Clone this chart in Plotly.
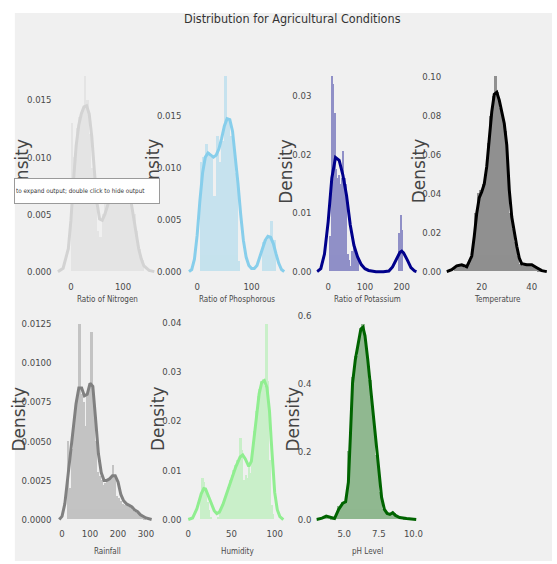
import plotly.graph_objects as go

# ------------------------------------------------------------------ data
nitrogen_bin_start, nitrogen_bin_width = 0, 5
nitrogen_hist = [0.0130, 0.0100, 0.0125, 0.0135, 0.0140, 0.0171, 0.0150, 0.0120, 0.0090, 0.0060,
                 0.0035, 0.0030, 0.0050, 0.0060, 0.0070, 0.0075, 0.0072, 0.0080, 0.0078, 0.0070,
                 0.0075, 0.0080, 0.0072, 0.0068, 0.0050, 0.0035, 0.0020, 0.0010]
nitrogen_kde_x = [-25, -15, -5, 0, 5, 10, 15, 20, 25, 30, 35, 40, 45, 50, 55, 60, 65, 70, 75, 80,
                  85, 90, 95, 100, 105, 110, 115, 120, 125, 130, 135, 140, 150, 160]
nitrogen_kde_y = [0.0000, 0.0003, 0.0020, 0.0045, 0.0080, 0.0110, 0.0128, 0.0138, 0.0144, 0.0145,
                  0.0138, 0.0118, 0.0088, 0.0060, 0.0046, 0.0045, 0.0050, 0.0058, 0.0066, 0.0072,
                  0.0076, 0.0078, 0.0079, 0.0079, 0.0077, 0.0072, 0.0062, 0.0048, 0.0033, 0.0020,
                  0.0011, 0.0005, 0.0001, 0.0000]

phosphorous_bin_start, phosphorous_bin_width = 5, 5
phosphorous_hist = [0.0105, 0.0110, 0.0122, 0.0115, 0.0110, 0.0072, 0.0130, 0.0105, 0.0125, 0.0188,
                    0.0145, 0.0130, 0.0125, 0.0095, 0.0010, 0.0, 0.0, 0.0, 0.0, 0.0,
                    0.0, 0.0, 0.0, 0.0028, 0.0030, 0.0032, 0.0048, 0.0030]
phosphorous_kde_x = [-15, -10, -5, 0, 5, 10, 15, 20, 25, 30, 35, 40, 45, 50, 55, 60, 65, 70, 75, 80,
                     85, 90, 95, 100, 105, 110, 115, 120, 125, 130, 135, 140, 145, 150, 155, 160]
phosphorous_kde_y = [0.0000, 0.0002, 0.0012, 0.0035, 0.0068, 0.0095, 0.0110, 0.0114, 0.0112, 0.0110,
                     0.0112, 0.0118, 0.0128, 0.0140, 0.0147, 0.0146, 0.0135, 0.0112, 0.0085, 0.0055,
                     0.0030, 0.0014, 0.0006, 0.0003, 0.0003, 0.0006, 0.0013, 0.0022, 0.0030, 0.0034,
                     0.0033, 0.0027, 0.0017, 0.0008, 0.0002, 0.0000]

potassium_bin_start, potassium_bin_width = 5, 4
potassium_hist = [0.0060, 0.0334, 0.0320, 0.0270, 0.0175, 0.0160, 0.0165, 0.0150, 0.0160, 0.0205,
                  0.0160, 0.0150, 0.0030, 0.0020, 0.0010, 0.0035, 0.0040, 0.0030, 0.0025, 0.0020,
                  0, 0, 0, 0, 0, 0, 0, 0, 0, 0,
                  0, 0, 0, 0, 0, 0, 0, 0, 0, 0,
                  0, 0, 0, 0, 0, 0, 0, 0.0065, 0.0097, 0.0070]
potassium_kde_x = [-30, -20, -10, 0, 10, 20, 30, 40, 50, 60, 70, 80, 90, 100, 110, 120, 130, 150,
                   165, 175, 185, 195, 200, 205, 215, 225, 235, 240]
potassium_kde_y = [0.0000, 0.0005, 0.0030, 0.0085, 0.0160, 0.0195, 0.0190, 0.0165, 0.0130, 0.0080,
                   0.0045, 0.0025, 0.0012, 0.0005, 0.0002, 0.0001, 0.0000, 0.0000, 0.0001, 0.0008,
                   0.0022, 0.0033, 0.0035, 0.0032, 0.0020, 0.0007, 0.0001, 0.0000]

temperature_bin_start, temperature_bin_width = 9, 1
temperature_hist = [0.002, 0.003, 0.004, 0.003, 0.002, 0.003, 0.006, 0.015, 0.030, 0.040,
                    0.042, 0.045, 0.050, 0.066, 0.080, 0.090, 0.1004, 0.092, 0.084, 0.080,
                    0.072, 0.050, 0.030, 0.022, 0.015, 0.008, 0.004, 0.003, 0.003, 0.004,
                    0.004, 0.003, 0.002, 0.001, 0.001]
temperature_kde_x = [6, 8, 10, 12, 14, 16, 17, 18, 19, 20, 21, 22, 23, 24, 25, 26, 27, 28, 29, 30,
                     31, 32, 33, 34, 35, 36, 38, 40, 42, 44, 46]
temperature_kde_y = [0.0000, 0.0010, 0.0030, 0.0035, 0.0025, 0.0080, 0.0180, 0.0300, 0.0380, 0.0410,
                     0.0450, 0.0540, 0.0680, 0.0820, 0.0910, 0.0920, 0.0880, 0.0820, 0.0760, 0.0650,
                     0.0420, 0.0280, 0.0200, 0.0130, 0.0070, 0.0040, 0.0035, 0.0035, 0.0020, 0.0005,
                     0.0000]

rainfall_bin_start, rainfall_bin_width = 20, 7
rainfall_hist = [0.0050, 0.0020, 0.0045, 0.0065, 0.0075, 0.0082, 0.0125, 0.0080, 0.0075, 0.0060,
                 0.0080, 0.0085, 0.0120, 0.0075, 0.0050, 0.0030, 0.0028, 0.0025, 0.0022, 0.0023,
                 0.0024, 0.0026, 0.0028, 0.0035, 0.0027, 0.0015, 0.0014, 0.0012, 0.0010, 0.0009,
                 0.0009, 0.0008, 0.0007, 0.0006, 0.0005, 0.0004, 0.0004, 0.0003, 0.0002, 0.0001]
rainfall_kde_x = [-10, 0, 10, 20, 30, 40, 50, 60, 70, 80, 90, 100, 110, 120, 130, 140, 150, 160,
                  170, 180, 190, 200, 210, 220, 230, 240, 250, 260, 270, 280, 290, 300, 320]
rainfall_kde_y = [0.0000, 0.0002, 0.0010, 0.0025, 0.0040, 0.0058, 0.0074, 0.0084, 0.0084, 0.0079,
                  0.0080, 0.0087, 0.0085, 0.0064, 0.0042, 0.0030, 0.0025, 0.0025, 0.0026, 0.0028,
                  0.0028, 0.0024, 0.0016, 0.0012, 0.0010, 0.0009, 0.0008, 0.0006, 0.0005, 0.0003,
                  0.0002, 0.0001, 0.0000]

humidity_bin_start, humidity_bin_width = 14, 2
humidity_hist = [0.0040, 0.0085, 0.0075, 0.0060, 0.0035, 0.0020, 0.0005, 0.0, 0.0, 0.0,
                 0.0005, 0.0010, 0.0020, 0.0030, 0.0045, 0.0055, 0.0065, 0.0080, 0.0090, 0.0100,
                 0.0110, 0.0120, 0.0115, 0.0165, 0.0140, 0.0080, 0.0090, 0.0085, 0.0110, 0.0095,
                 0.0130, 0.0180, 0.0220, 0.0250, 0.0265, 0.0280, 0.0285, 0.0270, 0.0397, 0.0280,
                 0.0120, 0.0030, 0.0010]
humidity_kde_x = [0, 5, 10, 15, 18, 20, 25, 30, 33, 36, 40, 45, 50, 55, 60, 63, 66, 70, 73, 76,
                  79, 82, 85, 88, 91, 94, 96, 98, 100, 103, 106, 110]
humidity_kde_y = [0.0000, 0.0003, 0.0022, 0.0052, 0.0063, 0.0062, 0.0040, 0.0018, 0.0012, 0.0015,
                  0.0030, 0.0055, 0.0082, 0.0107, 0.0127, 0.0131, 0.0123, 0.0108, 0.0118, 0.0160,
                  0.0210, 0.0255, 0.0278, 0.0282, 0.0268, 0.0220, 0.0160, 0.0100, 0.0055, 0.0020,
                  0.0006, 0.0000]

ph_bin_start, ph_bin_width = 3.5, 0.25
ph_hist = [0.008, 0.006, 0.003, 0.010, 0.040, 0.050, 0.055, 0.200, 0.420, 0.480,
           0.540, 0.575, 0.500, 0.410, 0.300, 0.190, 0.080, 0.030, 0.018, 0.015,
           0.020, 0.010, 0.006, 0.004, 0.002, 0.001]
ph_kde_x = [3.0, 3.4, 3.7, 4.0, 4.3, 4.6, 4.9, 5.1, 5.3, 5.45, 5.6, 5.8, 6.0, 6.2, 6.35, 6.5, 6.7,
            6.9, 7.1, 7.3, 7.5, 7.7, 7.9, 8.1, 8.3, 8.5, 8.7, 9.0, 9.5, 10.0, 10.2]
ph_kde_y = [0.000, 0.004, 0.010, 0.006, 0.003, 0.030, 0.048, 0.052, 0.110, 0.250, 0.400, 0.470,
            0.520, 0.560, 0.565, 0.540, 0.470, 0.390, 0.300, 0.210, 0.130, 0.065, 0.030, 0.018,
            0.015, 0.020, 0.012, 0.006, 0.003, 0.001, 0.000]

x_titles = ["Ratio of Nitrogen", "Ratio of Phosphorous", "Ratio of Potassium", "Temperature",
            "Rainfall", "Humidity", "pH Level"]
x_tick_vals = [[0, 100], [0, 100], [0, 100, 200], [20, 40], [0, 100, 200, 300], [0, 50, 100],
               [5.0, 7.5, 10.0]]
x_tick_text = [["0", "100"], ["0", "100"], ["0", "100", "200"], ["20", "40"],
               ["0", "100", "200", "300"], ["0", "50", "100"], ["5.0", "7.5", "10.0"]]
y_tick_vals = [[0, 0.005, 0.010, 0.015], [0, 0.005, 0.010, 0.015], [0, 0.01, 0.02, 0.03],
               [0, 0.02, 0.04, 0.06, 0.08, 0.10], [0, 0.0025, 0.005, 0.0075, 0.01, 0.0125],
               [0, 0.01, 0.02, 0.03, 0.04], [0, 0.2, 0.4, 0.6]]
y_tick_text = [["0.000", "0.005", "0.010", "0.015"], ["0.000", "0.005", "0.010", "0.015"],
               ["0.00", "0.01", "0.02", "0.03"], ["0.00", "0.02", "0.04", "0.06", "0.08", "0.10"],
               ["0.0000", "0.0025", "0.0050", "0.0075", "0.0100", "0.0125"],
               ["0.00", "0.01", "0.02", "0.03", "0.04"], ["0.0", "0.2", "0.4", "0.6"]]
y_title = "Density"
chart_title = "Distribution for Agricultural Conditions"
tooltip_text = "to expand output; double click to hide output"

series = [
    (nitrogen_bin_start, nitrogen_bin_width, nitrogen_hist, nitrogen_kde_x, nitrogen_kde_y),
    (phosphorous_bin_start, phosphorous_bin_width, phosphorous_hist, phosphorous_kde_x, phosphorous_kde_y),
    (potassium_bin_start, potassium_bin_width, potassium_hist, potassium_kde_x, potassium_kde_y),
    (temperature_bin_start, temperature_bin_width, temperature_hist, temperature_kde_x, temperature_kde_y),
    (rainfall_bin_start, rainfall_bin_width, rainfall_hist, rainfall_kde_x, rainfall_kde_y),
    (humidity_bin_start, humidity_bin_width, humidity_hist, humidity_kde_x, humidity_kde_y),
    (ph_bin_start, ph_bin_width, ph_hist, ph_kde_x, ph_kde_y),
]

# ------------------------------------------------------------------ style / layout
W, H = 557, 564
BG = "#f0f0f0"
colors = ["#d3d3d3", "#87ceeb", "#00008b", "#000000", "#808080", "#90ee90", "#006400"]
col_left = [56, 187.3, 318.7, 450]
col_w = 103
rows = [(63, 271), (314, 522)]  # (top px, zero px)
pos = [(0, 0), (0, 1), (0, 2), (0, 3), (1, 0), (1, 1), (1, 2)]
x_ranges = [[-27.9, 167.6], [-20, 167.3], [-32.3, 244.6], [5.77, 46.5],
            [-20.1, 343.8], [-2.3, 115.6], [2.98, 10.34]]
density_x = [21, 154, 288, 422, 18, 158, 295]
xtitle_y = [299, 554]

TICK_FAMILY = "DejaVu Sans Condensed, DejaVu Sans, sans-serif"
TICK_FONT = dict(family=TICK_FAMILY, size=9.5, color="#4a4a4a")


def fx(px):
    return px / W


def fy(py):
    return 1 - py / H


fig = go.Figure()
layout = dict(
    width=W, height=H, autosize=False,
    margin=dict(l=0, r=0, t=0, b=0, pad=0),
    paper_bgcolor="white", plot_bgcolor="rgba(0,0,0,0)",
    showlegend=False, bargap=0, barmode="overlay",
)
annotations = []
BOTTOM_PAD = 2.5

for i, (start, width, hist, kx, ky) in enumerate(series):
    r, c = pos[i]
    top, zero = rows[r]
    left = col_left[c]
    n = i + 1
    xa = "x" if n == 1 else f"x{n}"
    ya = "y" if n == 1 else f"y{n}"
    centers = [start + width * (k + 0.5) for k in range(len(hist))]
    fig.add_trace(go.Bar(x=centers, y=hist, width=width, marker=dict(color=colors[i], line=dict(width=0)),
                         opacity=0.4, xaxis=xa, yaxis=ya, hoverinfo="skip"))
    fig.add_trace(go.Scatter(x=kx, y=ky, mode="lines", line=dict(color=colors[i], width=3),
                             xaxis=xa, yaxis=ya, hoverinfo="skip", cliponaxis=False))
    ymax = 1.05 * max(max(hist), max(ky))
    ymin = -ymax * BOTTOM_PAD / (zero - top)
    layout["xaxis" if n == 1 else f"xaxis{n}"] = dict(
        domain=[fx(left), fx(left + col_w)], range=x_ranges[i], anchor=ya,
        tickvals=x_tick_vals[i], ticktext=x_tick_text[i], tickfont=TICK_FONT,
        showgrid=False, zeroline=False, showline=False,
        ticks="outside", ticklen=3, tickcolor="rgba(0,0,0,0)", fixedrange=True)
    layout["yaxis" if n == 1 else f"yaxis{n}"] = dict(
        domain=[fy(zero + BOTTOM_PAD), fy(top)], range=[ymin, ymax], anchor=xa,
        tickvals=y_tick_vals[i], ticktext=y_tick_text[i], tickfont=TICK_FONT,
        showgrid=False, zeroline=False, showline=False,
        ticks="outside", ticklen=2, tickcolor="rgba(0,0,0,0)", fixedrange=True)
    annotations.append(dict(text=x_titles[i], xref="paper", yref="paper",
                            x=fx(left + col_w / 2), y=fy(xtitle_y[r]), xanchor="center", yanchor="middle",
                            showarrow=False, font=dict(family=TICK_FAMILY, size=8, color="#4a4a4a")))
    annotations.append(dict(text=y_title, xref="paper", yref="paper", textangle=-90,
                            x=fx(density_x[i]), y=fy((top + zero) / 2 + 2), xanchor="center", yanchor="middle",
                            showarrow=False, font=dict(family="DejaVu Sans", size=17, color="#444444")))

annotations.insert(0, dict(text=chart_title, xref="paper", yref="paper", x=fx(295), y=fy(15),
                           xanchor="center", yanchor="middle", showarrow=False,
                           font=dict(family=TICK_FAMILY, size=12.5, color="#333333")))
annotations.append(dict(text=tooltip_text, xref="paper", yref="paper", x=fx(13), y=fy(189),
                        xanchor="left", yanchor="middle", align="left", showarrow=False,
                        width=142, height=22, bgcolor="white", bordercolor="#9a9a9a", borderwidth=1,
                        borderpad=1, font=dict(family=TICK_FAMILY, size=6.3, color="#333333")))

layout["annotations"] = annotations
layout["shapes"] = [dict(type="rect", xref="paper", yref="paper", x0=fx(14), x1=1, y0=0, y1=fy(9),
                         fillcolor=BG, line=dict(width=0), layer="below")]
fig.update_layout(**layout)

fig.write_html("out.html", config={"displayModeBar": False},
               post_script="document.body.style.margin='0';document.body.style.overflow='hidden';")
